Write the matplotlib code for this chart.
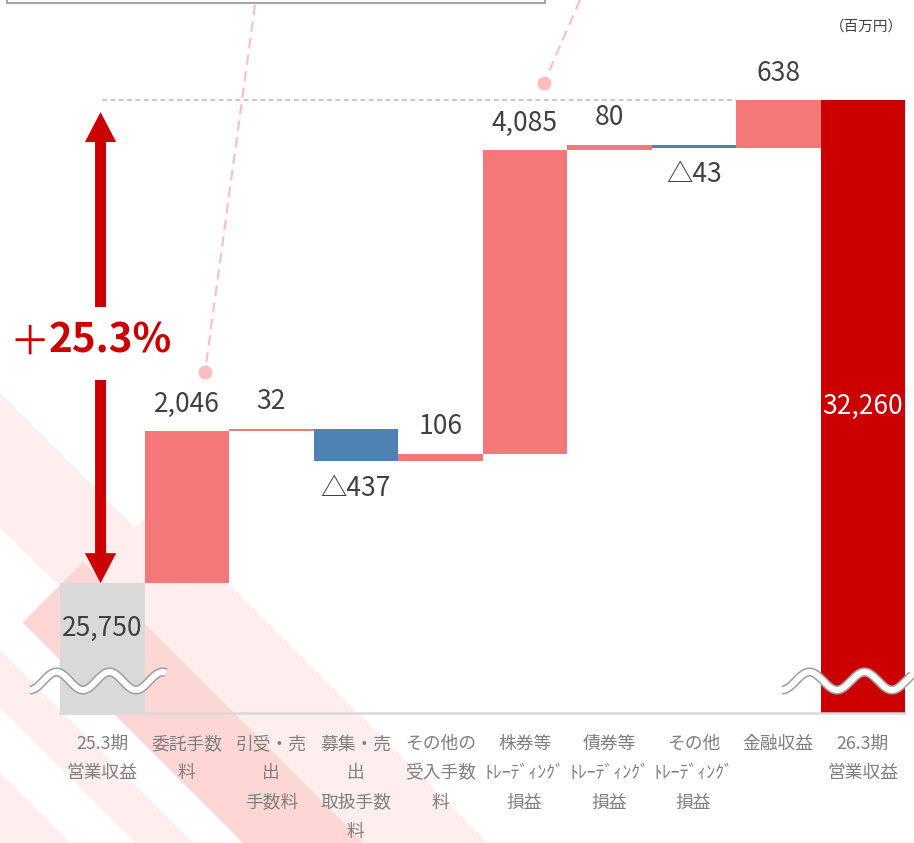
import numpy as np
import matplotlib
matplotlib.use('Agg')
import matplotlib.pyplot as plt
from matplotlib.patches import Polygon, Rectangle, FancyArrow
import matplotlib.patheffects as pe

plt.rcParams['font.family'] = ['Noto Sans CJK JP', 'DejaVu Sans']

# data (百万円)
categories = ['25.3期\n営業収益', '委託手数\n料', '引受・売\n出\n手数料',
              '募集・売\n出\n取扱手数\n料', 'その他の\n受入手数\n料',
              '株券等\nﾄﾚｰﾃﾞｨﾝｸﾞ\n損益', '債券等\nﾄﾚｰﾃﾞｨﾝｸﾞ\n損益',
              'その他\nﾄﾚｰﾃﾞｨﾝｸﾞ\n損益', '金融収益', '26.3期\n営業収益']
start_value = 25750
changes = [2046, 32, -437, 106, 4085, 80, -43, 638]
end_value = 32260
start_label = '25,750'
end_label = '32,260'
change_labels = ['2,046', '32', '△437', '106', '4,085', '80', '△43', '638']
growth_label = '25.3%'
axis_floor = 24000   # y axis is cut (wave marks)

W, H = 914, 843
fig = plt.figure(figsize=(W / 100, H / 100), dpi=100)

# background stripes (pixel coords)
bg = fig.add_axes([0, 0, 1, 1], zorder=0)
bg.set_xlim(0, W)
bg.set_ylim(H, 0)
bg.axis('off')

def stripe(c0, c1, d0, d1, color):
    # band between lines x-y=c0..c1, cut at x+y=d0..d1
    pts = [((c + d) / 2, (d - c) / 2) for c, d in [(c0, d0), (c1, d0), (c1, d1), (c0, d1)]]
    bg.add_patch(Polygon(pts, closed=True, facecolor=color, edgecolor='none'))

light = '#FEEEEE'
dark = '#FFD6D6'
stripe(-527, -393, 300, 2200, light)
stripe(-393, -355, 663, 2200, light)
stripe(-707, -650, 600, 2200, light)
stripe(-950, -773, 600, 2200, light)
stripe(-600, -479, 645, 2200, dark)

# main chart
ax = fig.add_axes([60 / W, 1 - 713 / H, 845 / W, 713 / H], zorder=1)
ax.patch.set_alpha(0)
px_per_unit = 483 / (end_value - start_value)
ax.set_xlim(-0.5, 9.5)
ax.set_ylim(axis_floor, axis_floor + 713 / px_per_unit)

ch = np.array(changes)
cum = start_value + np.cumsum(ch)
prev = np.concatenate([[start_value], cum[:-1]])
bottoms = np.minimum(prev, cum)
heights = np.abs(ch)
cols = ['#F47878' if v > 0 else '#4F81B3' for v in ch]
xs = np.arange(1, len(changes) + 1)

ax.bar(0, start_value - axis_floor, bottom=axis_floor, width=1.0, color='#D9D9D9')
ax.bar(xs, heights, bottom=bottoms, width=1.0, color=cols)
ax.bar(9, end_value - axis_floor, bottom=axis_floor, width=1.0, color='#CC0000')

ax.plot([0, 7.5], [end_value, end_value], ls=(0, (3, 2)), color='#BFBFBF', lw=1.2, zorder=0.5)

for x, v, b, h, lab in zip(xs, ch, bottoms, heights, change_labels):
    if v > 0:
        ax.annotate(lab, (x, b + h), xytext=(0, 27), textcoords='offset pixels',
                    ha='center', va='center', fontsize=19, color='#404040')
    else:
        ax.annotate(lab, (x, b), xytext=(0, -27), textcoords='offset pixels',
                    ha='center', va='center', fontsize=19, color='#404040')
ax.annotate(start_label, (0, start_value), xytext=(0, -45), textcoords='offset pixels',
            ha='center', va='center', fontsize=19, color='#404040')
ax.text(9, (end_value + axis_floor) / 2, end_label, ha='center', va='center',
        fontsize=19, color='white')

# growth arrows
mid = (start_value + end_value) / 2
ax.add_patch(FancyArrow(-0.02, mid + 467, 0, end_value - 160 - (mid + 467), width=0.13,
                        head_width=0.37, head_length=30 / px_per_unit,
                        length_includes_head=True, color='#CC0000', lw=0))
ax.add_patch(FancyArrow(-0.02, mid - 517, 0, start_value - (mid - 517), width=0.13,
                        head_width=0.37, head_length=30 / px_per_unit,
                        length_includes_head=True, color='#CC0000', lw=0))

ax.set_xticks(np.arange(len(categories)))
ax.set_xticklabels(categories, fontsize=12.8, color='#7F7F7F', linespacing=1.8, va='top')
ax.tick_params(axis='x', length=0, pad=16)
ax.set_yticks([])
for s in ['top', 'left', 'right']:
    ax.spines[s].set_visible(False)
ax.spines['bottom'].set_color('#D9D9D9')
ax.spines['bottom'].set_linewidth(1.8)

# overlay decorations (pixel coords)
ov = fig.add_axes([0, 0, 1, 1], zorder=3)
ov.set_xlim(0, W)
ov.set_ylim(H, 0)
ov.axis('off')
ov.patch.set_alpha(0)

ov.text(30, 343, '＋', fontsize=29, color='#CC0000', ha='center', va='center')
ov.text(49, 341, growth_label, fontsize=29, fontweight='bold', color='#CC0000',
        ha='left', va='center')

for x0, x1, period in [(30, 166, 53), (782, 912, 55)]:
    wx = np.linspace(x0, x1, 200)
    wy = 681 + 9 * np.cos(2 * np.pi * (wx - x0) / period)
    ov.plot(wx, wy, color='white', lw=4.3, solid_capstyle='butt',
            path_effects=[pe.Stroke(linewidth=6.6, foreground='#A0A0A0'), pe.Normal()])

ov.add_patch(Rectangle((7, -20), 538, 23, facecolor='white', edgecolor='#A6A6A6', lw=1.5))
ov.plot([255, 205], [5, 372], ls=(0, (5, 3)), color='#FFBDBD', lw=1.5)
ov.plot([205], [372], 'o', ms=10, color='#FFBDBD', mec='none')
ov.plot([580, 544], [0, 83], ls=(0, (5, 3)), color='#FFBDBD', lw=1.5)
ov.plot([544], [83], 'o', ms=10, color='#FFBDBD', mec='none')

ov.text(903, 27, '（百万円）', fontsize=10.5, color='#404040', ha='right', va='center')

fig.savefig('out.png', dpi=100)
